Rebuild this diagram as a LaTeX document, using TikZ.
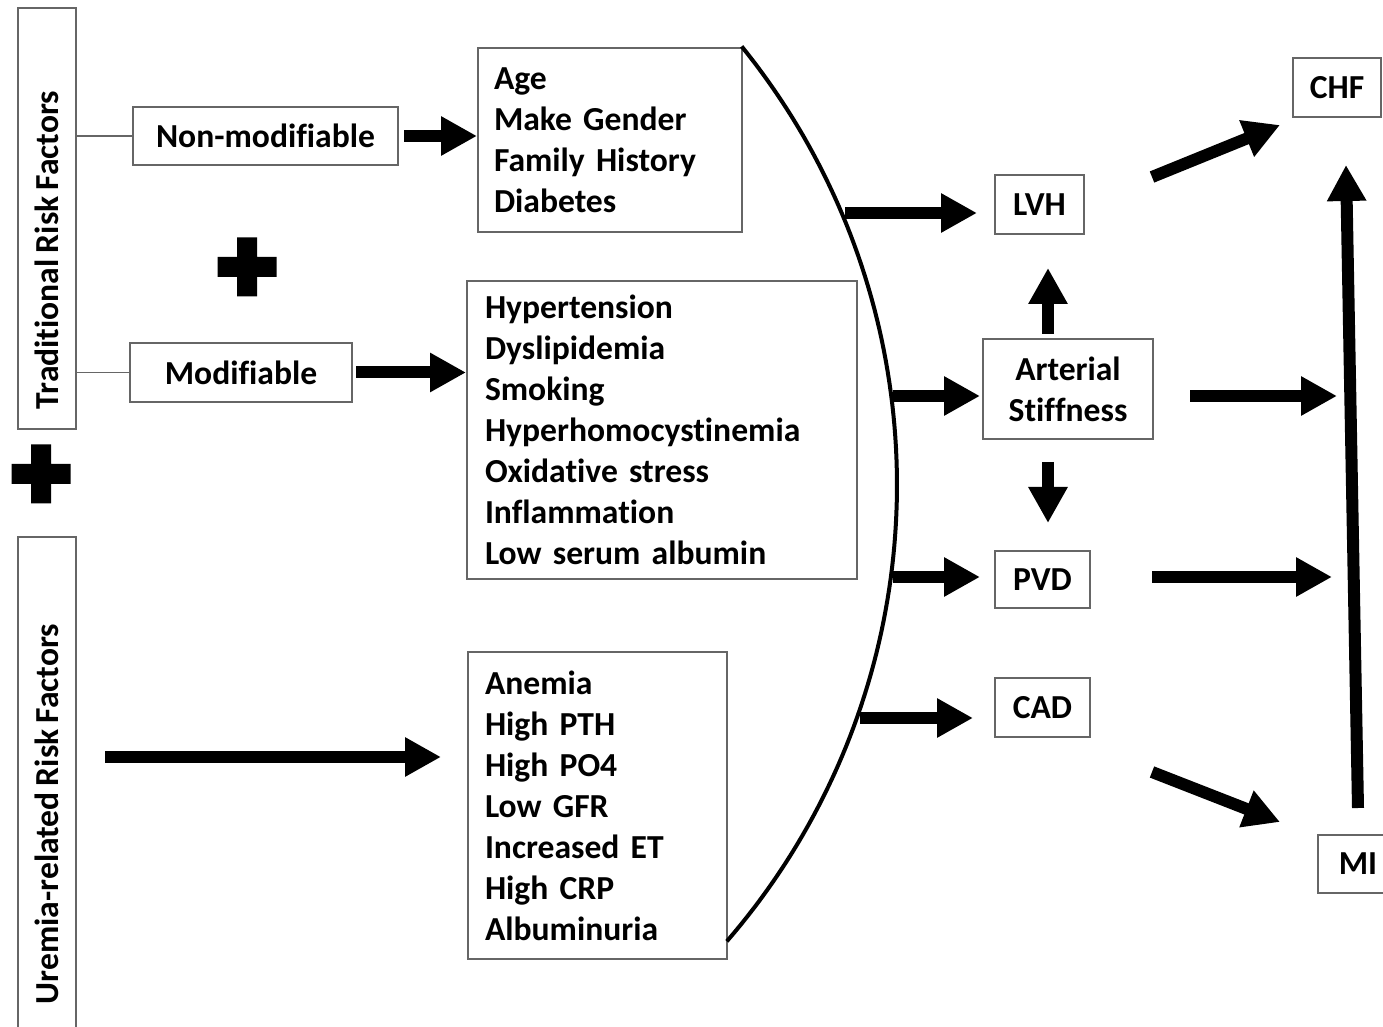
\documentclass[tikz,border=0pt]{standalone}
\usepackage{fontspec}
\setmainfont[Ligatures=NoCommon, WordSpace=0.8]{Carlito}
\usetikzlibrary{arrows.meta}
\begin{document}
\begin{tikzpicture}[x=0.5pt,y=-0.5pt,
  txt/.style={font=\fontsize{16.8}{20.5}\selectfont\bfseries},
  box/.style={txt, draw=black!60, line width=1pt, inner sep=0pt},
  listbox/.style={box, anchor=north west, align=left},
  fat/.style={line width=6pt, -{Triangle[length=18pt,width=18.5pt]}},
  link/.style={draw=black!60, line width=0.8pt},
  plussign/.style={fill=black},
]
\clip (0,0) rectangle (1383,1027);
\fill[white] (0,0) rectangle (1383,1027);

% left column
\node[box, minimum width=29pt, minimum height=210.5pt] (trad) at (47,218.5) {};
\node[txt, rotate=90, inner sep=0pt] (tradlbl) at (47,250) {Traditional Risk Factors};
\node[box, minimum width=29pt, minimum height=279pt] (urem) at (47,816) {};
\node[txt, rotate=90, inner sep=0pt] (uremlbl) at (47,814) {Uremia-related Risk Factors};

\node[box, minimum width=132.5pt, minimum height=29pt] (nm) at (265.5,136) {Non-modifiable};
\node[box, minimum width=111pt, minimum height=29.5pt] (mod) at (241,372.5) {Modifiable};

\draw[link] (trad.east |- nm.west) -- (nm.west);
\draw[link] (trad.east |- mod.west) -- (mod.west);

% plus signs
\fill[plussign] (237,237.5) -- (257,237.5) -- (257,257) -- (276.5,257) -- (276.5,277) -- (257,277) -- (257,296.5) -- (237,296.5) -- (237,277) -- (217.5,277) -- (217.5,257) -- (237,257) -- cycle;
\fill[plussign] (31,444.5) -- (51,444.5) -- (51,464) -- (70.5,464) -- (70.5,484) -- (51,484) -- (51,503.5) -- (31,503.5) -- (31,484) -- (11.5,484) -- (11.5,464) -- (31,464) -- cycle;

% list boxes
\node[listbox, minimum height=92pt, text width=116pt, inner xsep=8pt] (age) at (477,47)
  {Age\\Make Gender\\Family History\\Diabetes};
\node[listbox, minimum height=149pt, text width=177pt, inner xsep=9pt] (hyp) at (466,280)
  {Hypertension\\Dyslipidemia\\Smoking\\Hyperhomocystinemia\\Oxidative stress\\Inflammation\\Low serum albumin};
\node[listbox, minimum height=153.5pt, text width=112.5pt, inner xsep=8.5pt] (anem) at (467,651)
  {Anemia\\High PTH\\High PO4\\Low GFR\\Increased ET\\High CRP\\Albuminuria};

\draw[fat] ([xshift=2.5pt]nm.east) -- (age.west |- nm.east);
\draw[fat] ([xshift=1.5pt]mod.east) -- (hyp.west |- mod.east);
\coordinate (u1) at (105,757);
\coordinate (u2) at (441,757);
\draw[fat] (u1) -- (u2);

% bracket curve
\draw[line width=2pt] plot[domain=-39:40.9, samples=90] ({200+697*cos(\x)},{485+697*sin(\x)});

% outcome boxes
\node[box, minimum width=44.5pt, minimum height=29.5pt] (lvh) at (1039.5,204.5) {LVH};
\node[box, minimum width=85pt, minimum height=50pt, align=center] (art) at (1068,389) {Arterial\\Stiffness};
\node[box, minimum width=47.5pt, minimum height=28.5pt] (pvd) at (1042.5,579.5) {PVD};
\node[box, minimum width=47.5pt, minimum height=29.5pt] (cad) at (1042.5,707.5) {CAD};
\node[box, minimum width=44pt, minimum height=29.5pt] (chf) at (1337,87.5) {CHF};
\node[box, minimum width=40pt, minimum height=29pt] (mi) at (1358,864) {MI};

% arrows from curve
\coordinate (c1) at (845,213);  \coordinate (l1) at (977,213);
\coordinate (c2) at (893,396);  \coordinate (l2) at (980,396);
\coordinate (c3) at (893,577);  \coordinate (l3) at (980,577);
\coordinate (c4) at (860,718);  \coordinate (l4) at (973,718);
\draw[fat] (c1) -- (l1);
\draw[fat] (c2) -- (l2);
\draw[fat] (c3) -- (l3);
\draw[fat] (c4) -- (l4);

% arterial stiffness up / down
\coordinate (au) at (1048,268);
\coordinate (ad1) at (1048,462);
\coordinate (ad2) at (1048,523);
\draw[fat] ([yshift=2pt]art.north -| au) -- (au);
\draw[fat] (ad1) -- (ad2);

% to right column
\coordinate (r1) at (1190,396);  \coordinate (r1e) at (1337,396);
\coordinate (r2) at (1152,577);  \coordinate (r2e) at (1332,577);
\draw[fat] (r1) -- (r1e);
\draw[fat] (r2) -- (r2e);

\coordinate (h1) at (1152,177); \coordinate (h1e) at (1280,125);
\coordinate (m1) at (1152,772); \coordinate (m1e) at (1280,822);
\draw[fat] (h1) -- (h1e);
\draw[fat] (m1) -- (m1e);

\coordinate (v1) at (1358,808); \coordinate (v1e) at (1346,165);
\draw[fat] (v1) -- (v1e);
\end{tikzpicture}
\end{document}
